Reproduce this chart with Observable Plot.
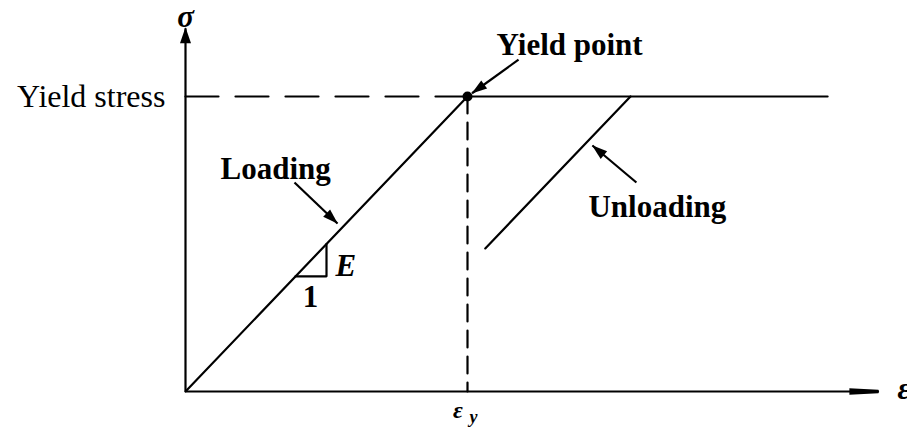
<!DOCTYPE html>
<html>
<head>
<meta charset="utf-8">
<script src="https://cdn.jsdelivr.net/npm/d3@7"></script>
<script src="https://cdn.jsdelivr.net/npm/@observablehq/plot@0.6"></script>
<style>
  html, body { margin: 0; padding: 0; background: #fff; }
  svg { display: block; }
</style>
</head>
<body>
<div id="chart"></div>
<script>
// Elastic–perfectly-plastic stress–strain diagram.
// Strain and stress are normalised by their yield values (εy = 1, σy = 1).
const yieldStrain = 1;
const yieldStress = 1;

const strainAxis = [[0, 0], [2.457, 0]];
const stressAxis = [[0, 0], [0, 1.231]];

const loadingBranch = [[0, 0], [yieldStrain, yieldStress]];
const plasticBranch = [[yieldStrain, yieldStress], [2.277, yieldStress]];
const unloadingBranch = [[1.063, 0.485], [1.578, yieldStress]];

const yieldStressGuide = [[0, yieldStress], [yieldStrain, yieldStress]];
const yieldStrainGuide = [[yieldStrain, yieldStress], [yieldStrain, 0]];

// slope triangle: run of 1, rise of E
const slopeTriangle = [[0.39, 0.39], [0.5, 0.39], [0.5, 0.5]];

const yieldPoint = [[yieldStrain, yieldStress]];

// leader arrows (tail → head)
const pointers = [
  {x1: 1.181, y1: 1.125, x2: 1.016, y2: 1.011},
  {x1: 0.3865, y1: 0.7085, x2: 0.539, y2: 0.5695},
  {x1: 1.599, y1: 0.7085, x2: 1.443, y2: 0.834}
];

// label baselines
const plainLabels = [
  {text: "Yield stress", x: -0.071, y: 0.963}
];
const boldLabels = [
  {text: "Yield point", x: 1.103, y: 1.139, anchor: "start"},
  {text: "Loading", x: 0.124, y: 0.722, anchor: "start"},
  {text: "Unloading", x: 1.429, y: 0.593, anchor: "start"},
  {text: "1", x: 0.443, y: 0.288, anchor: "middle"}
];
const symbolLabels = [
  {text: "σ", x: 0, y: 1.234, anchor: "middle", size: 31},
  {text: "ε", x: 2.525, y: -0.024, anchor: "start", size: 31},
  {text: "E", x: 0.532, y: 0.39, anchor: "start", size: 31},
  {text: "ε", x: 0.966, y: -0.0915, anchor: "middle", size: 24},
  {text: "y", x: 1.021, y: -0.108, anchor: "middle", size: 18}
];

const serif = "'Liberation Serif', 'Times New Roman', Times, serif";
const px = (d) => d[0];
const py = (d) => d[1];
const seg = (data, opts = {}) =>
  Plot.line(data, {x: px, y: py, stroke: "black", strokeWidth: 2.2, ...opts});
const axisLink = (data) =>
  Plot.link([data], {
    x1: (d) => d[0][0], y1: (d) => d[0][1], x2: (d) => d[1][0], y2: (d) => d[1][1],
    stroke: "black", strokeWidth: 2.2
  });

const svg = Plot.plot({
  width: 907,
  height: 427,
  margin: 0,
  style: {background: "white", fontFamily: serif, overflow: "visible"},
  x: {domain: [0, 1], range: [185, 467], axis: null},
  y: {domain: [0, 1], range: [391, 96], axis: null},
  marks: [
    axisLink(strainAxis),
    axisLink(stressAxis),
    seg(yieldStressGuide, {strokeDasharray: "33,17"}),
    seg(yieldStrainGuide, {strokeDasharray: "17,9"}),
    seg(loadingBranch),
    seg(plasticBranch),
    seg(unloadingBranch),
    seg(slopeTriangle, {strokeLinejoin: "miter"}),
    Plot.link(pointers, {
      x1: "x1", y1: "y1", x2: "x2", y2: "y2",
      stroke: "black", strokeWidth: 2.2
    }),
    Plot.dot(yieldPoint, {x: px, y: py, r: 5, fill: "black"}),
    Plot.text(plainLabels, {
      x: "x", y: "y", text: "text", textAnchor: "end", lineAnchor: "bottom",
      fontSize: 32, fontFamily: serif, fill: "black"
    }),
    Plot.text(boldLabels, {
      filter: (d) => d.anchor === "start",
      x: "x", y: "y", text: "text", textAnchor: "start", lineAnchor: "bottom",
      fontSize: 31, fontWeight: "bold", fontFamily: serif, fill: "black"
    }),
    Plot.text(boldLabels, {
      filter: (d) => d.anchor === "middle",
      x: "x", y: "y", text: "text", textAnchor: "middle", lineAnchor: "bottom",
      fontSize: 31, fontWeight: "bold", fontFamily: serif, fill: "black"
    }),
    Plot.text(symbolLabels, {
      filter: (d) => d.anchor === "start",
      x: "x", y: "y", text: "text", textAnchor: "start", lineAnchor: "bottom",
      fontSize: "size", fontWeight: "bold", fontStyle: "italic", fontFamily: serif, fill: "black"
    }),
    Plot.text(symbolLabels, {
      filter: (d) => d.anchor === "middle",
      x: "x", y: "y", text: "text", textAnchor: "middle", lineAnchor: "bottom",
      fontSize: "size", fontWeight: "bold", fontStyle: "italic", fontFamily: serif, fill: "black"
    })
  ]
});

// Filled arrowheads for the two axes and the leader lines
const root = d3.select(svg);
const defs = root.insert("defs", ":first-child");
function arrowhead(id, d) {
  defs.append("marker")
    .attr("id", id)
    .attr("viewBox", "-40 -10 42 20")
    .attr("markerWidth", 42)
    .attr("markerHeight", 20)
    .attr("refX", 0)
    .attr("refY", 0)
    .attr("markerUnits", "userSpaceOnUse")
    .attr("orient", "auto")
    .append("path")
    .attr("d", d)
    .attr("fill", "black")
    .attr("stroke", "none");
}
arrowhead("head-strain", "M0,-1.8Q1.5,0 0,1.8L-29,3.3L-29,-3.3Z");
arrowhead("head-stress", "M1,0L-15,-5.5L-15,5.5Z");
arrowhead("head-pointer", "M0.5,0L-15,-5L-15,5Z");

// link marks appear in mark order: strain axis, stress axis, leader lines
const linkGroups = root.selectAll('g[aria-label="link"]').nodes();
const heads = ["head-strain", "head-stress", "head-pointer"];
linkGroups.forEach((g, i) => {
  d3.select(g).selectAll("path").attr("marker-end", `url(#${heads[i]})`);
});

document.getElementById("chart").append(svg);
</script>
</body>
</html>
